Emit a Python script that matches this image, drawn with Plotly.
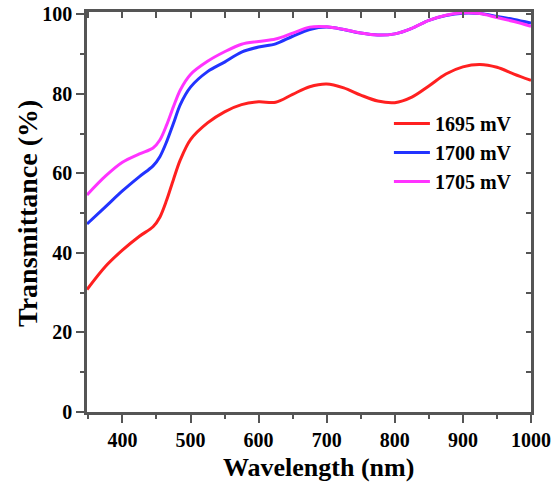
import plotly.graph_objects as go

wavelength = [348, 375, 400, 425, 445, 455, 465, 475, 485, 500, 525, 550, 575, 600,
              625, 650, 675, 700, 725, 750, 775, 800, 825, 850, 875, 900, 925, 950, 975, 1000]
t_1695 = [30.8, 36.6, 40.7, 44.2, 46.6, 49.0, 53.3, 58.5, 63.4, 68.5, 72.7, 75.5, 77.3, 78.0,
          77.9, 79.9, 81.8, 82.5, 81.5, 79.7, 78.2, 77.8, 79.2, 82.0, 85.0, 86.8, 87.4, 86.7, 85.0, 83.4]
t_1700 = [47.3, 51.6, 55.6, 59.2, 61.9, 64.2, 68.0, 72.6, 77.3, 81.7, 85.6, 88.0, 90.5, 91.8,
          92.6, 94.5, 96.2, 96.8, 96.2, 95.3, 94.8, 95.1, 96.5, 98.5, 99.7, 100.3, 100.2, 99.5, 98.7, 97.8]
t_1705 = [54.6, 59.3, 62.8, 64.9, 66.4, 68.4, 72.2, 76.8, 81.0, 84.9, 88.2, 90.6, 92.5, 93.2,
          93.8, 95.3, 96.8, 96.9, 96.2, 95.3, 94.8, 95.1, 96.5, 98.5, 99.8, 100.4, 100.2, 99.2, 98.2, 97.0]
series_names = ["1695 mV", "1700 mV", "1705 mV"]
series_colors = ["#ff2020", "#2233ff", "#ff33ff"]

x_range = [348, 1000]
y_range = [0, 100.6]
x_ticks = [400, 500, 600, 700, 800, 900, 1000]
y_ticks = [0, 20, 40, 60, 80, 100]
x_title = "Wavelength (nm)"
y_title = "Transmittance (%)"

FONT = "Liberation Serif, Times New Roman, serif"
AX = "#555555"

fig = go.Figure()
for name, ys, col in zip(series_names, [t_1695, t_1700, t_1705], series_colors):
    fig.add_trace(go.Scatter(x=wavelength, y=ys, name=name, mode="lines",
                             line=dict(color=col, width=3, shape="spline", smoothing=0.9)))
# invisible trace for mirrored axes
fig.add_trace(go.Scatter(x=[x_range[0]], y=[y_range[0]], xaxis="x2", yaxis="y2",
                         mode="markers", marker=dict(opacity=0), showlegend=False,
                         hoverinfo="skip"))

fig.update_layout(
    width=557, height=484,
    margin=dict(l=87, r=26, t=12, b=72),
    plot_bgcolor="white", paper_bgcolor="white",
    font=dict(family=FONT, color="black"),
    showlegend=True,
    legend=dict(x=0.68, y=0.77, xanchor="left", yanchor="top",
                bgcolor="rgba(0,0,0,0)", font=dict(size=20, family=FONT, weight="bold"),
                itemwidth=36, tracegroupgap=0),
    xaxis=dict(range=x_range, tickvals=x_ticks, showgrid=False, zeroline=False, automargin=False,
               showline=True, linecolor=AX, linewidth=2.5,
               ticks="outside", ticklen=8, tickwidth=2, tickcolor=AX,
               minor=dict(ticks="outside", dtick=50, tick0=0, ticklen=4, tickwidth=2, tickcolor=AX),
               tickfont=dict(size=20, family=FONT, weight="bold")),
    yaxis=dict(range=y_range, tickvals=y_ticks, showgrid=False, zeroline=False, automargin=False,
               showline=True, linecolor=AX, linewidth=2.5,
               ticks="outside", ticklen=8, tickwidth=2, tickcolor=AX,
               minor=dict(ticks="outside", dtick=10, tick0=0, ticklen=4, tickwidth=2, tickcolor=AX),
               tickfont=dict(size=20, family=FONT, weight="bold")),
    xaxis2=dict(range=x_range, overlaying="x", side="top", dtick=50, tick0=0, automargin=False,
                showticklabels=False, showgrid=False, zeroline=False,
                showline=True, linecolor=AX, linewidth=2.5,
                ticks="inside", ticklen=6, tickwidth=2, tickcolor=AX),
    yaxis2=dict(range=y_range, overlaying="y", side="right", dtick=10, tick0=0, automargin=False,
                showticklabels=False, showgrid=False, zeroline=False,
                showline=True, linecolor=AX, linewidth=2.5,
                ticks="inside", ticklen=5, tickwidth=2, tickcolor=AX),
    annotations=[
        dict(text=x_title, xref="paper", yref="paper", x=0.5225, y=-0.1375,
             xanchor="center", yanchor="middle", showarrow=False,
             font=dict(size=26, family=FONT, weight="bold", color="black")),
        dict(text=y_title, xref="paper", yref="paper", x=-0.133, y=0.4975, textangle=-90,
             xanchor="center", yanchor="middle", showarrow=False,
             font=dict(size=28, family=FONT, weight="bold", color="black")),
    ],
)

fig.write_html("out.html")
